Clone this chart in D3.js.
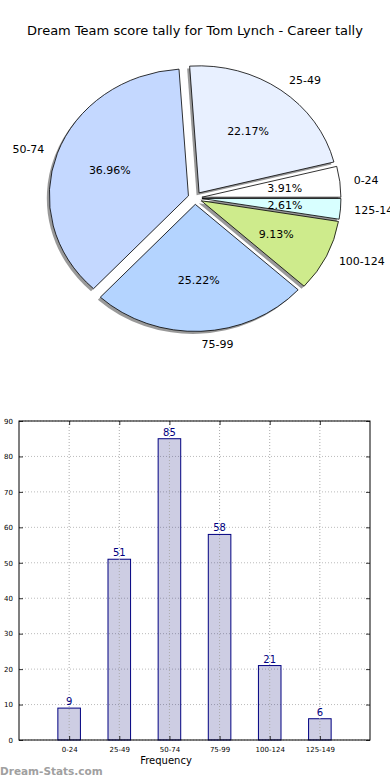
<!DOCTYPE html>
<html>
<head>
<meta charset="utf-8">
<script src="https://cdn.jsdelivr.net/npm/d3@7"></script>
<style>
  body { margin: 0; background: #fff; }
  svg { display: block; font-family: "DejaVu Sans", sans-serif; }
</style>
</head>
<body>
<script>
// data
var categories = ["0-24", "25-49", "50-74", "75-99", "100-124", "125-149"];
var counts = [9, 51, 85, 58, 21, 6];
var sliceColors = ["#ffffff", "#e8f0ff", "#c4d8ff", "#b4d4ff", "#ceeb8c", "#d8ffff"];
var yTicks = [0, 10, 20, 30, 40, 50, 60, 70, 80, 90];
var titleText = "Dream Team score tally for Tom Lynch - Career tally";

var width = 390, height = 780;

var svg = d3.select("body").append("svg")
    .attr("width", width)
    .attr("height", height);

// title
svg.append("text")
    .attr("x", 195)
    .attr("y", 35)
    .attr("text-anchor", "middle")
    .style("font-size", "13px")
    .text(titleText);

// ---- pie ----
var cx = 195, cy = 198, rx = 139, ry = 127, explode = 0.05;
var total = d3.sum(counts);

// matplotlib style: start at 3 o'clock, go counter clockwise
var pie = d3.pie().sort(null)
    .startAngle(Math.PI / 2)
    .endAngle(Math.PI / 2 - 2 * Math.PI);
var arcs = pie(counts);
var unitArc = d3.arc().innerRadius(0).outerRadius(1);

function midOf(d) { return (d.startAngle + d.endAngle) / 2; }

var pieG = svg.append("g").attr("class", "pie");

// shadows first
pieG.selectAll("path.shadow")
    .data(arcs)
    .enter().append("path")
    .attr("class", "shadow")
    .attr("d", unitArc)
    .attr("transform", function(d) {
        var m = midOf(d);
        var ox = cx + explode * rx * Math.sin(m) - 2.5;
        var oy = cy - explode * ry * Math.cos(m) + 2.5;
        return "translate(" + ox + "," + oy + ") scale(" + rx + "," + ry + ")";
    })
    .style("fill", "#000")
    .style("opacity", 0.4);

pieG.selectAll("path.wedge")
    .data(arcs)
    .enter().append("path")
    .attr("class", "wedge")
    .attr("d", unitArc)
    .attr("transform", function(d) {
        var m = midOf(d);
        var ox = cx + explode * rx * Math.sin(m);
        var oy = cy - explode * ry * Math.cos(m);
        return "translate(" + ox + "," + oy + ") scale(" + rx + "," + ry + ")";
    })
    .style("fill", function(d, i) { return sliceColors[i]; })
    .style("stroke", "#000")
    .style("stroke-width", 0.8)
    .attr("vector-effect", "non-scaling-stroke");

// outer labels
pieG.selectAll("text.lbl")
    .data(arcs)
    .enter().append("text")
    .attr("class", "lbl")
    .attr("x", function(d) {
        var m = midOf(d);
        return cx + (explode + 1.1) * rx * Math.sin(m);
    })
    .attr("y", function(d) {
        var m = midOf(d);
        return cy - (explode + 1.1) * ry * Math.cos(m);
    })
    .attr("dy", "0.35em")
    .attr("text-anchor", function(d) { return Math.sin(midOf(d)) > 0 ? "start" : "end"; })
    .style("font-size", "11px")
    .text(function(d, i) { return categories[i]; });

// percentages
pieG.selectAll("text.pct")
    .data(arcs)
    .enter().append("text")
    .attr("class", "pct")
    .attr("x", function(d) {
        var m = midOf(d);
        return cx + (explode + 0.6) * rx * Math.sin(m);
    })
    .attr("y", function(d) {
        var m = midOf(d);
        return cy - (explode + 0.6) * ry * Math.cos(m);
    })
    .attr("dy", "0.35em")
    .attr("text-anchor", "middle")
    .style("font-size", "11px")
    .text(function(d) { return (d.value / total * 100).toFixed(2) + "%"; });

// ---- bar chart ----
var plotLeft = 19, plotRight = 370, plotTop = 421, plotBottom = 740;
var x = d3.scaleLinear().domain([-1, categories.length]).range([plotLeft, plotRight]);
var y = d3.scaleLinear().domain([0, 90]).range([plotBottom, plotTop]);
var barW = x(0.45) - x(0);

var barG = svg.append("g").attr("class", "bars");

// horizontal grid
barG.selectAll("line.hgrid")
    .data(yTicks)
    .enter().append("line")
    .attr("class", "hgrid")
    .attr("x1", plotLeft).attr("x2", plotRight)
    .attr("y1", function(d) { return y(d); })
    .attr("y2", function(d) { return y(d); })
    .style("stroke", "#bbb")
    .style("stroke-width", 1)
    .style("stroke-dasharray", "1,2");

// bars
barG.selectAll("rect.bar")
    .data(counts)
    .enter().append("rect")
    .attr("class", "bar")
    .attr("x", function(d, i) { return x(i) - barW / 2; })
    .attr("y", function(d) { return y(d); })
    .attr("width", barW)
    .attr("height", function(d) { return y(0) - y(d); })
    .style("fill", "#1a1a80")
    .style("fill-opacity", 0.22)
    .style("stroke", "#000080")
    .style("stroke-width", 1);

// vertical grid (drawn over the bars)
barG.selectAll("line.vgrid")
    .data(categories)
    .enter().append("line")
    .attr("class", "vgrid")
    .attr("x1", function(d, i) { return x(i); })
    .attr("x2", function(d, i) { return x(i); })
    .attr("y1", plotTop).attr("y2", plotBottom)
    .style("stroke", "#aaa")
    .style("stroke-width", 1)
    .style("stroke-dasharray", "1,2");

// value labels
barG.selectAll("text.val")
    .data(counts)
    .enter().append("text")
    .attr("class", "val")
    .attr("x", function(d, i) { return x(i); })
    .attr("y", function(d) { return y(d) - 3; })
    .attr("text-anchor", "middle")
    .style("font-size", "10px")
    .style("fill", "#000080")
    .text(function(d) { return d; });

// axes box
barG.append("rect")
    .attr("x", plotLeft).attr("y", plotTop)
    .attr("width", plotRight - plotLeft).attr("height", plotBottom - plotTop)
    .style("fill", "none")
    .style("stroke", "#000")
    .style("stroke-width", 1);

// axes with inward ticks on all four sides
var yAxisL = d3.axisLeft(y).tickValues(yTicks).tickSizeInner(-4).tickSizeOuter(0).tickPadding(6);
barG.append("g").attr("transform", "translate(" + plotLeft + ",0)").call(yAxisL);
var yAxisR = d3.axisRight(y).tickValues(yTicks).tickSizeInner(-4).tickSizeOuter(0).tickFormat("");
barG.append("g").attr("transform", "translate(" + plotRight + ",0)").call(yAxisR);

var xAxisB = d3.axisBottom(x).tickValues(d3.range(categories.length))
    .tickFormat(function(i) { return categories[i]; })
    .tickSizeInner(-4).tickSizeOuter(0).tickPadding(7);
barG.append("g").attr("transform", "translate(0," + plotBottom + ")").call(xAxisB);
var xAxisT = d3.axisTop(x).tickValues(d3.range(categories.length))
    .tickSizeInner(-4).tickSizeOuter(0).tickFormat("");
barG.append("g").attr("transform", "translate(0," + plotTop + ")").call(xAxisT);

barG.selectAll(".domain").remove();
barG.selectAll(".tick line").style("stroke", "#000").style("stroke-width", 0.8);
barG.selectAll(".tick text")
    .style("font-family", "DejaVu Sans, sans-serif")
    .style("font-size", "7px")
    .style("fill", "#000");

// x label
svg.append("text")
    .attr("x", 166)
    .attr("y", 764)
    .attr("text-anchor", "middle")
    .style("font-size", "10px")
    .text("Frequency");

// watermark
svg.append("text")
    .attr("x", 0)
    .attr("y", 775)
    .style("font-size", "10.5px")
    .style("font-weight", "bold")
    .style("fill", "#a0a0a0")
    .text("Dream-Stats.com");
</script>
</body>
</html>
